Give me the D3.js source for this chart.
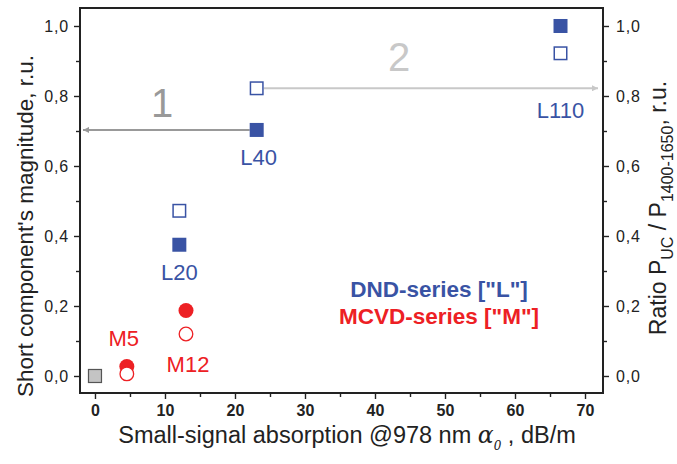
<!DOCTYPE html>
<html>
<head>
<meta charset="utf-8">
<script src="https://cdn.jsdelivr.net/npm/d3@7"></script>
<style>
  html, body { margin: 0; padding: 0; background: #fff; }
  svg { display: block; font-family: "Liberation Sans", Arial, sans-serif; }
</style>
</head>
<body>
<svg id="chart"></svg>
<script>
const w = 677;
const h = 464;
const margin = { top: 8, right: 74, bottom: 71, left: 80 };

// DND series "L"
const lLabels = ["L20", "L40", "L110"];
const lAbsorption = [12.05, 23.1, 66.5];
const lShort = [0.375, 0.703, 1.0];
const lRatio = [0.472, 0.822, 0.922];

// MCVD series "M"
const mLabels = ["M5", "M12"];
const mAbsorption = [4.55, 13.0];
const mShort = [0.027, 0.187];
const mRatio = [0.006, 0.12];

// reference point
const refAbsorption = [0];
const refValue = [0];

const xTicks = [0, 10, 20, 30, 40, 50, 60, 70];
const yTicks = [0, 0.2, 0.4, 0.6, 0.8, 1.0];

const blue = "#3953a4";
const red = "#ed2024";

const svg = d3.select("#chart").attr("width", w).attr("height", h);

const xScale = d3.scaleLinear()
    .domain([-2.14, 72.57])
    .range([margin.left, w - margin.right]);
const yScale = d3.scaleLinear()
    .domain([-0.0486, 1.0514])
    .range([h - margin.bottom, margin.top]);

const fmt = d => d3.format(".1f")(d).replace(".", ",");

const bottom = h - margin.bottom;
const right = w - margin.right;

// axes
const xAxis = d3.axisBottom(xScale).tickValues(xTicks).tickSize(6).tickPadding(6).tickFormat(d3.format("d"));
const xMinor = d3.axisBottom(xScale).tickValues(d3.range(5, 75, 10)).tickSize(4).tickFormat("");
const yLeft = d3.axisLeft(yScale).tickValues(yTicks).tickSize(6).tickPadding(5).tickFormat(fmt);
const yLeftMinor = d3.axisLeft(yScale).tickValues([0.1, 0.3, 0.5, 0.7, 0.9]).tickSize(4).tickFormat("");
const yRight = d3.axisRight(yScale).tickValues(yTicks).tickSize(6).tickPadding(7).tickFormat(fmt);
const yRightMinor = d3.axisRight(yScale).tickValues([0.1, 0.3, 0.5, 0.7, 0.9]).tickSize(4).tickFormat("");

function styleAxis(g) {
    g.select(".domain").remove();
    g.selectAll("line").attr("stroke", "#222").attr("stroke-width", 1.4);
    g.selectAll("text").attr("fill", "#222").style("font-family", "Liberation Sans, Arial, sans-serif");
}

svg.append("g").attr("transform", `translate(0,${bottom})`).call(xAxis).call(styleAxis)
    .selectAll("text").style("font-size", "16px").style("font-weight", "bold");
svg.append("g").attr("transform", `translate(0,${bottom})`).call(xMinor).call(styleAxis);
svg.append("g").attr("transform", `translate(${margin.left},0)`).call(yLeft).call(styleAxis)
    .selectAll("text").style("font-size", "16px").style("letter-spacing", "0.8px");
svg.append("g").attr("transform", `translate(${margin.left},0)`).call(yLeftMinor).call(styleAxis);
svg.append("g").attr("transform", `translate(${right},0)`).call(yRight).call(styleAxis)
    .selectAll("text").style("font-size", "16px").style("letter-spacing", "0.8px");
svg.append("g").attr("transform", `translate(${right},0)`).call(yRightMinor).call(styleAxis);

// frame
svg.append("rect")
    .attr("x", margin.left).attr("y", margin.top)
    .attr("width", right - margin.left).attr("height", bottom - margin.top)
    .attr("fill", "none").attr("stroke", "#222").attr("stroke-width", 2);

// arrows
const defs = svg.append("defs");
function marker(id, color) {
    defs.append("marker")
        .attr("id", id).attr("viewBox", "0 0 10 10")
        .attr("refX", 10).attr("refY", 5)
        .attr("markerWidth", 12).attr("markerHeight", 6)
        .attr("markerUnits", "userSpaceOnUse")
        .attr("orient", "auto")
        .append("path").attr("d", "M0,0 L10,5 L0,10 Z").attr("fill", color);
}
marker("arr1", "#999");
marker("arr2", "#c8c8c8");

svg.append("line")
    .attr("x1", xScale(lAbsorption[1]) - 7).attr("y1", yScale(lShort[1]))
    .attr("x2", margin.left + 3).attr("y2", yScale(lShort[1]))
    .attr("stroke", "#999").attr("stroke-width", 2).attr("marker-end", "url(#arr1)");
svg.append("line")
    .attr("x1", xScale(lAbsorption[1]) + 7).attr("y1", yScale(lRatio[1]))
    .attr("x2", right - 5).attr("y2", yScale(lRatio[1]))
    .attr("stroke", "#c8c8c8").attr("stroke-width", 2).attr("marker-end", "url(#arr2)");

svg.append("text").attr("x", 162).attr("y", 117).attr("text-anchor", "middle")
    .attr("fill", "#999").style("font-size", "40px").text("1");
svg.append("text").attr("x", 399).attr("y", 71).attr("text-anchor", "middle")
    .attr("fill", "#c8c8c8").style("font-size", "40px").text("2");

// markers
const s = 14;
svg.selectAll("rect.ref").data(refAbsorption).enter().append("rect")
    .attr("x", (d) => xScale(d) - 6.5).attr("y", (d, i) => yScale(refValue[i]) - 6.5)
    .attr("width", 13).attr("height", 13)
    .attr("fill", "#c4c4c4").attr("stroke", "#555").attr("stroke-width", 1.2);

svg.selectAll("rect.lfill").data(lAbsorption).enter().append("rect")
    .attr("x", d => xScale(d) - s / 2).attr("y", (d, i) => yScale(lShort[i]) - s / 2)
    .attr("width", s).attr("height", s).attr("fill", blue);
svg.selectAll("rect.lopen").data(lAbsorption).enter().append("rect")
    .attr("x", d => xScale(d) - s / 2 + 0.75).attr("y", (d, i) => yScale(lRatio[i]) - s / 2 + 0.75)
    .attr("width", s - 1.5).attr("height", s - 1.5)
    .attr("fill", "#fff").attr("stroke", blue).attr("stroke-width", 1.5);

svg.selectAll("circle.mfill").data(mAbsorption).enter().append("circle")
    .attr("cx", d => xScale(d)).attr("cy", (d, i) => yScale(mShort[i]))
    .attr("r", 7.5).attr("fill", red);
svg.selectAll("circle.mopen").data(mAbsorption).enter().append("circle")
    .attr("cx", d => xScale(d)).attr("cy", (d, i) => yScale(mRatio[i]))
    .attr("r", 6.8).attr("fill", "#fff").attr("stroke", red).attr("stroke-width", 1.3);

// point labels
const lOffsets = [[0, 35, lShort], [2, 35, lShort], [0, 65, lRatio]];
svg.selectAll("text.ll").data(lLabels).enter().append("text")
    .attr("x", (d, i) => xScale(lAbsorption[i]) + lOffsets[i][0])
    .attr("y", (d, i) => yScale(lOffsets[i][2][i]) + lOffsets[i][1])
    .attr("text-anchor", "middle").attr("fill", blue).style("font-size", "22px").text(d => d);

const mOffsets = [[-3, -21, mShort], [2, 38, mRatio]];
svg.selectAll("text.ml").data(mLabels).enter().append("text")
    .attr("x", (d, i) => xScale(mAbsorption[i]) + mOffsets[i][0])
    .attr("y", (d, i) => yScale(mOffsets[i][2][i]) + mOffsets[i][1])
    .attr("text-anchor", "middle").attr("fill", red).style("font-size", "22px").text(d => d);

// legend text
svg.append("text").attr("x", 439).attr("y", 297).attr("text-anchor", "middle")
    .attr("fill", blue).style("font-size", "22.5px").style("font-weight", "bold")
    .text('DND-series ["L"]');
svg.append("text").attr("x", 439).attr("y", 324).attr("text-anchor", "middle")
    .attr("fill", red).style("font-size", "22.5px").style("font-weight", "bold")
    .text('MCVD-series ["M"]');

// axis titles
const xt = svg.append("text").attr("x", 347).attr("y", 443).attr("text-anchor", "middle")
    .attr("fill", "#222").style("font-size", "23.5px");
xt.append("tspan").text("Small-signal absorption @978 nm ");
xt.append("tspan").style("font-family", "DejaVu Serif, serif").style("font-style", "italic").text("α");
xt.append("tspan").attr("dy", 7).style("font-family", "DejaVu Serif, serif").style("font-style", "italic")
    .style("font-size", "12px").text("0");
xt.append("tspan").attr("dy", -7).text(" , dB/m");

svg.append("text")
    .attr("transform", `translate(33,226) rotate(-90)`)
    .attr("text-anchor", "middle").attr("fill", "#222").style("font-size", "22.5px")
    .text("Short component's magnitude, r.u.");

const rt = svg.append("text")
    .attr("transform", `translate(666,208) rotate(-90)`)
    .attr("text-anchor", "middle").attr("fill", "#222").style("font-size", "23px");
rt.append("tspan").text("Ratio P");
rt.append("tspan").attr("dy", 7).style("font-size", "16px").text("UC");
rt.append("tspan").attr("dy", -7).text(" / P");
rt.append("tspan").attr("dy", 7).style("font-size", "16px").text("1400-1650");
rt.append("tspan").attr("dy", -7).text(", r.u.");
</script>
</body>
</html>
